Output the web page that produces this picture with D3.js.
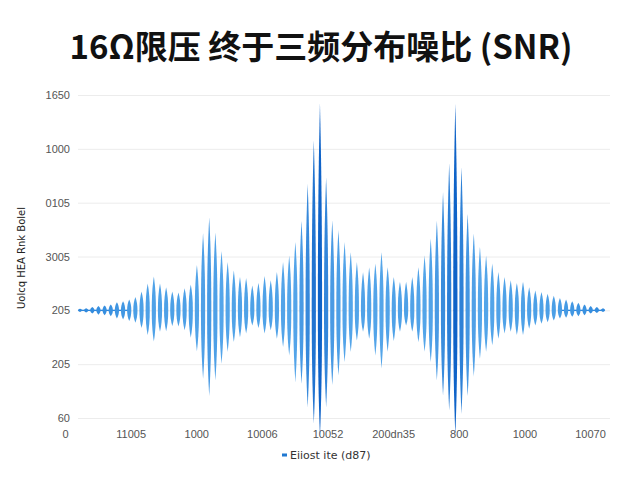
<!DOCTYPE html>
<html>
<head>
<meta charset="utf-8">
<script src="https://cdn.jsdelivr.net/npm/d3@7"></script>
<style>
    body { margin: 0; background: #fff; }
    svg { display: block; }
    .tick-label { font-family: "Liberation Sans", "DejaVu Sans", sans-serif; font-size: 11px; fill: #555; }
</style>
</head>
<body>
<svg></svg>
<script>
// tick labels as printed on the picture
let yTickValues = [-200, -100, 0, 100, 200, 300, 400];
let yTickLabels = ['60', '205', '205', '3005', '0105', '1000', '1650'];
let xTickLabels = ['0', '11005', '1000', '10006', '10052', '200dn35', '800', '1000', '10070'];

// amplitude of each lobe above the baseline (chart units)
let upperValues = [
    3, 4, 6, 8, 9, 11, 15, 17, 20, 25,
    35, 50, 63, 50, 43, 35, 33, 41, 48, 84,
    143, 173, 145, 110, 90, 74, 62, 60, 46, 51,
    64, 56, 71, 90, 102, 127, 167, 235, 316, 384,
    247, 167, 149, 127, 108, 90, 71, 80, 87, 108,
    80, 62, 53, 53, 62, 80, 102, 133, 167, 220,
    273, 384, 266, 180, 143, 118, 102, 87, 71, 62,
    56, 51, 53, 43, 37, 34, 31, 27, 23, 20,
    17, 14, 11, 8, 6, 4
];

// amplitude of each lobe below the baseline (chart units)
let lowerValues = [
    3, 4, 6, 8, 9, 11, 15, 17, 20, 23,
    33, 46, 58, 40, 39, 29, 30, 37, 51, 76,
    127, 159, 130, 99, 77, 59, 50, 43, 28, 33,
    43, 37, 53, 68, 84, 133, 136, 180, 210, 235,
    180, 139, 121, 96, 77, 56, 40, 53, 84, 108,
    77, 57, 40, 28, 40, 59, 77, 96, 130, 158,
    186, 232, 192, 160, 123, 90, 77, 65, 53, 43,
    40, 46, 46, 34, 28, 25, 22, 19, 15, 14,
    12, 11, 9, 6, 5, 3
];

let width = 640;
let height = 480;

let svg = d3.select('svg')
    .attr('width', width)
    .attr('height', height);

let lobes = upperValues.map((u, i) => ({ i: i, up: u, down: lowerValues[i] }));

// scales
let x = d3.scaleLinear()
    .domain([0, lobes.length - 1])
    .range([80, 603]);

let y = d3.scaleLinear()
    .domain([-200, 400])
    .range([418, 95]);

let xLabels = d3.scalePoint()
    .domain(d3.range(xTickLabels.length))
    .range([65, 590]);

// colour gets deeper for the tall lobes
let colorScale = d3.scaleLinear()
    .domain([0, 25, 120, 384])
    .range(['#2c86dc', '#4b9fe6', '#55a6ea', '#0f63c8']);

// title
svg.append('text')
    .attr('x', 321)
    .attr('y', 59)
    .attr('text-anchor', 'middle')
    .style('font-family', '"Noto Sans CJK SC", "Noto Sans", sans-serif')
    .style('font-weight', 'bold')
    .style('font-size', '33px')
    .style('fill', '#111')
    .text('16Ω限压 终于三频分布噪比 (SNR)');

// y axis: only gridlines and labels, no domain line
let yAxis = svg.append('g')
    .attr('transform', 'translate(78,0)')
    .call(d3.axisLeft(y)
        .tickValues(yTickValues)
        .tickSize(-532)
        .tickPadding(8)
        .tickFormat((d, i) => yTickLabels[i]));

yAxis.select('.domain').remove();
yAxis.selectAll('line')
    .attr('stroke', '#ececec')
    .attr('stroke-width', 1);
yAxis.selectAll('text')
    .attr('class', 'tick-label')
    .attr('dy', '0.32em');

// y axis title
svg.append('text')
    .attr('transform', 'translate(25,258) rotate(-90)')
    .attr('text-anchor', 'middle')
    .style('font-family', '"DejaVu Sans", sans-serif')
    .style('font-size', '10px')
    .style('fill', '#222')
    .text('Uolcq HEA Rnk Bolel');

// x labels
let xAxis = svg.append('g')
    .attr('transform', 'translate(0,426)')
    .call(d3.axisBottom(xLabels)
        .tickSize(0)
        .tickPadding(4)
        .tickFormat(d => xTickLabels[d]));

xAxis.select('.domain').remove();
xAxis.selectAll('text')
    .attr('class', 'tick-label');

// thin baseline where the lobes get small
let baseY = y(0);
let quiet = lobes.filter(d => d.up < 25);
svg.append('g')
    .selectAll('line.base')
    .data(quiet.filter(d => quiet.some(e => e.i === d.i + 1)))
    .enter()
    .append('line')
    .classed('base', true)
    .attr('x1', d => x(d.i))
    .attr('x2', d => x(d.i + 1))
    .attr('y1', baseY)
    .attr('y2', baseY)
    .attr('stroke', '#2f86da')
    .attr('stroke-width', 1.3);

// one rounded lens per oscillation, tips at the top and bottom values
let halfWidth = 2.1;
function lobePath(d) {
    let cx = x(d.i);
    let top = y(d.up);
    let bottom = y(-d.down);
    let w = halfWidth;
    let k = 0.3;
    return `M${cx},${top}` +
        `C${cx + w * 0.7},${top + (baseY - top) * k} ${cx + w},${baseY - (baseY - top) * 0.4} ${cx + w},${baseY}` +
        `C${cx + w},${baseY + (bottom - baseY) * 0.4} ${cx + w * 0.7},${bottom - (bottom - baseY) * k} ${cx},${bottom}` +
        `C${cx - w * 0.7},${bottom - (bottom - baseY) * k} ${cx - w},${baseY + (bottom - baseY) * 0.4} ${cx - w},${baseY}` +
        `C${cx - w},${baseY - (baseY - top) * 0.4} ${cx - w * 0.7},${top + (baseY - top) * k} ${cx},${top}Z`;
}

svg.append('g')
    .selectAll('path.lobe')
    .data(lobes)
    .enter()
    .append('path')
    .classed('lobe', true)
    .attr('d', lobePath)
    .style('fill', d => colorScale(d.up));

// legend
let legend = svg.append('g')
    .attr('transform', 'translate(282,455)');

legend.append('rect')
    .attr('x', 0)
    .attr('y', -1.5)
    .attr('width', 5)
    .attr('height', 3)
    .style('fill', '#1f78d1');

legend.append('text')
    .attr('x', 8)
    .attr('y', 4)
    .style('font-family', '"DejaVu Sans", sans-serif')
    .style('font-size', '11px')
    .style('fill', '#333')
    .text('Eiiost ite (d87)');
</script>
</body>
</html>
